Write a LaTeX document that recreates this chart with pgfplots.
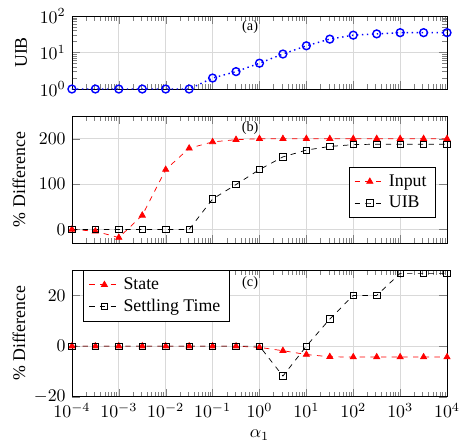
\documentclass[border=0pt]{standalone}
\usepackage{fontspec}
\setmainfont{Liberation Serif}
\usepackage{pgfplots}
\pgfplotsset{compat=1.18}
\usetikzlibrary{calc}
\begin{document}
\begin{tikzpicture}
\begin{axis}[scale only axis, width=210.7pt, xmode=log, xmin=1e-4, xmax=1e4,
  xtick={1e-4,1e-3,1e-2,1e-1,1,10,100,1000,10000},
  grid=major, major grid style={gray!30}, tick pos=both, tick align=inside,
  name=a, height=41pt, ymode=log, ymin=1, ymax=100,
  ytick={1,10,100}, xticklabels={}, ylabel={UIB}, clip=false,
  ylabel style={at={(axis description cs:-0.12,0.5)}, anchor=base}]
\addplot[blue, dotted, thick, mark=o, mark size=2.2pt, mark options={solid, thick}] coordinates {
(1e-4,1) (3.1623e-4,1) (1e-3,1) (3.1623e-3,1) (0.01,1) (0.031623,1) (0.1,2.0) (0.31623,3.0)
(1,5.1) (3.1623,9.1) (10,15.3) (31.623,23.3) (100,29.9) (316.23,32.4) (1000,35) (3162.3,35) (10000,35)};
\node[font=\footnotesize] at (rel axis cs:0.475,0.85) {(a)};
\end{axis}
\begin{axis}[scale only axis, width=210.7pt, xmode=log, xmin=1e-4, xmax=1e4,
  xtick={1e-4,1e-3,1e-2,1e-1,1,10,100,1000,10000},
  grid=major, major grid style={gray!30}, tick pos=both, tick align=inside,
  name=b, at={($(a.south west)+(0,-15.2pt)$)}, anchor=north west,
  height=71.3pt, ymin=-30, ymax=250, ytick={0,100,200}, xticklabels={},
  ylabel={\% Difference},
  ylabel style={at={(axis description cs:-0.125,0.5)}, anchor=base},
  legend style={at={(0.97,0.2)}, anchor=south east}, legend cell align=left]
\addplot[red, dashed, mark=triangle*, mark size=2pt, mark options={solid, fill=red}] coordinates {
(1e-4,0) (3.1623e-4,-4) (1e-3,-18) (3.1623e-3,31) (0.01,132) (0.031623,179) (0.1,193) (0.31623,198)
(1,200) (3.1623,200) (10,200) (31.623,200) (100,200) (316.23,200) (1000,200) (3162.3,200) (10000,200)};
\addlegendentry{Input}
\addplot[black, dashed, mark=square, mark size=1.8pt, mark options={solid}] coordinates {
(1e-4,0) (3.1623e-4,0) (1e-3,0) (3.1623e-3,0) (0.01,0) (0.031623,0) (0.1,67) (0.31623,99)
(1,132) (3.1623,160) (10,175) (31.623,183) (100,187) (316.23,188) (1000,188) (3162.3,188) (10000,188)};
\addlegendentry{UIB}
\node[font=\footnotesize] at (rel axis cs:0.475,0.905) {(b)};
\end{axis}
\begin{axis}[scale only axis, width=210.7pt, xmode=log, xmin=1e-4, xmax=1e4,
  xtick={1e-4,1e-3,1e-2,1e-1,1,10,100,1000,10000},
  grid=major, major grid style={gray!30}, tick pos=both, tick align=inside,
  name=c, at={($(b.south west)+(0,-15.2pt)$)}, anchor=north west,
  height=71.2pt, ymin=-20, ymax=30, ytick={-20,0,20},
  ylabel={\% Difference}, xlabel={$\alpha_1$},
  ylabel style={at={(axis description cs:-0.125,0.5)}, anchor=base},
  legend style={at={(0.03,1)}, anchor=north west}, legend cell align=left]
\addplot[red, dashed, mark=triangle*, mark size=2pt, mark options={solid, fill=red}] coordinates {
(1e-4,0) (3.1623e-4,0) (1e-3,0) (3.1623e-3,0) (0.01,0) (0.031623,0) (0.1,0) (0.31623,0)
(1,-0.5) (3.1623,-1.8) (10,-3.3) (31.623,-4.2) (100,-4.3) (316.23,-4.3) (1000,-4.3) (3162.3,-4.3) (10000,-4.3)};
\addlegendentry{State}
\addplot[black, dashed, mark=square, mark size=1.8pt, mark options={solid}] coordinates {
(1e-4,0) (3.1623e-4,0) (1e-3,0) (3.1623e-3,0) (0.01,0) (0.031623,0) (0.1,0) (0.31623,0)
(1,0) (3.1623,-11.8) (10,0) (31.623,10.7) (100,20) (316.23,20) (1000,28.7) (3162.3,28.7) (10000,28.7)};
\addlegendentry{Settling Time}
\node[font=\footnotesize] at (rel axis cs:0.475,0.9) {(c)};
\end{axis}
\pgfresetboundingbox
\path ($(a.north west)+(-40.4pt,9pt)$) rectangle ($(c.south east)+(8.4pt,-25.3pt)$);
\end{tikzpicture}
\end{document}
